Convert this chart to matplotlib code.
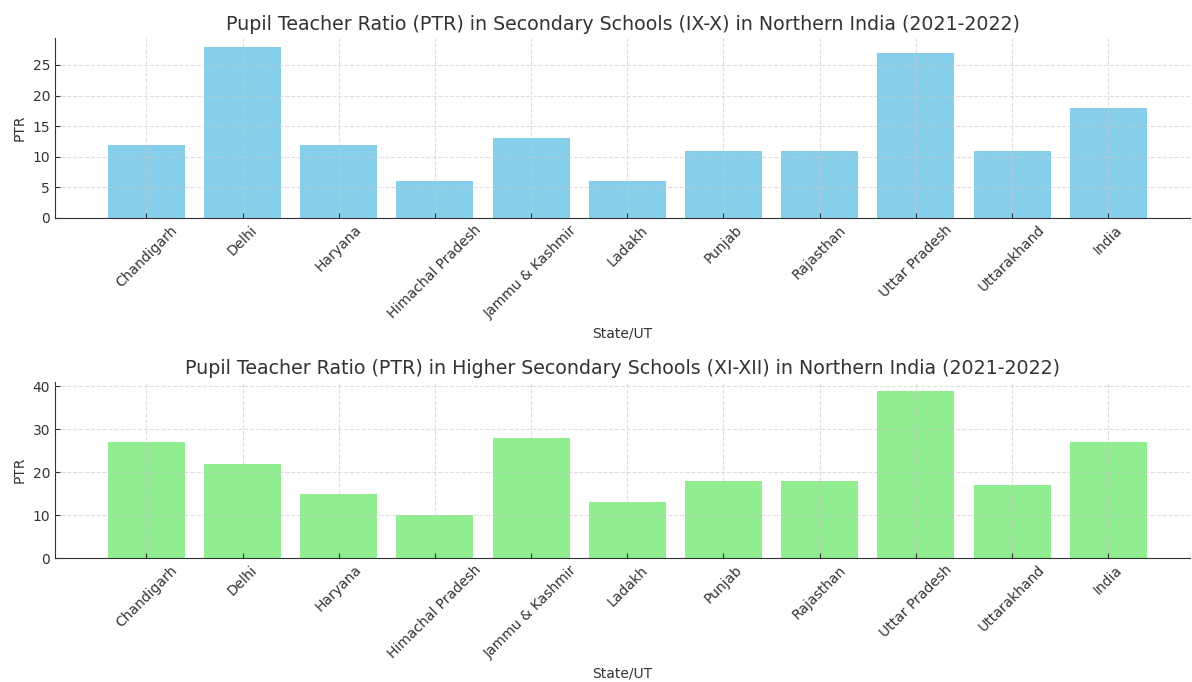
import matplotlib.pyplot as plt

states = ['Chandigarh', 'Delhi', 'Haryana', 'Himachal Pradesh', 'Jammu & Kashmir',
          'Ladakh', 'Punjab', 'Rajasthan', 'Uttar Pradesh', 'Uttarakhand', 'India']
ptr_secondary = [12, 28, 12, 6, 13, 6, 11, 11, 27, 11, 18]
ptr_higher_secondary = [27, 22, 15, 10, 28, 13, 18, 18, 39, 17, 27]

plt.rcParams.update({
    'text.color': '#333333',
    'axes.labelcolor': '#333333',
    'xtick.color': '#333333',
    'ytick.color': '#333333',
    'axes.edgecolor': '#333333',
    'xtick.direction': 'in',
    'ytick.direction': 'in',
})

W, H = 1192, 682
fig = plt.figure(figsize=(W / 100, H / 100), dpi=100)

def add_axes(left, top, right, bottom):
    return fig.add_axes([left / W, 1 - bottom / H, (right - left) / W, (bottom - top) / H])

ax1 = add_axes(55, 38, 1190, 218)
ax2 = add_axes(55, 382, 1190, 558)

panels = [
    (ax1, ptr_secondary, 'skyblue',
     'Pupil Teacher Ratio (PTR) in Secondary Schools (IX-X) in Northern India (2021-2022)'),
    (ax2, ptr_higher_secondary, 'lightgreen',
     'Pupil Teacher Ratio (PTR) in Higher Secondary Schools (XI-XII) in Northern India (2021-2022)'),
]

for ax, values, color, title in panels:
    ax.bar(range(len(states)), values, color=color, width=0.8, zorder=1)
    ax.set_xticks(range(len(states)))
    ax.set_xticklabels(states, rotation=45, fontsize=10)
    ax.tick_params(axis='y', labelsize=10)
    ax.set_xlim(-0.95, 10.85)
    ax.set_xlabel('State/UT', fontsize=10)
    ax.set_ylabel('PTR', fontsize=10)
    ax.set_title(title, fontsize=13.7)
    ax.grid(True, linestyle='--', alpha=0.6, color='#c8c8c8', zorder=2)
    ax.set_axisbelow(False)
    ax.spines['top'].set_visible(False)
    ax.spines['right'].set_visible(False)

ax1.set_yticks([0, 5, 10, 15, 20, 25])
ax1.set_ylim(0, 29.4)
ax2.set_yticks([0, 10, 20, 30, 40])
ax2.set_ylim(0, 41)

fig.savefig('out.png', dpi=100)
